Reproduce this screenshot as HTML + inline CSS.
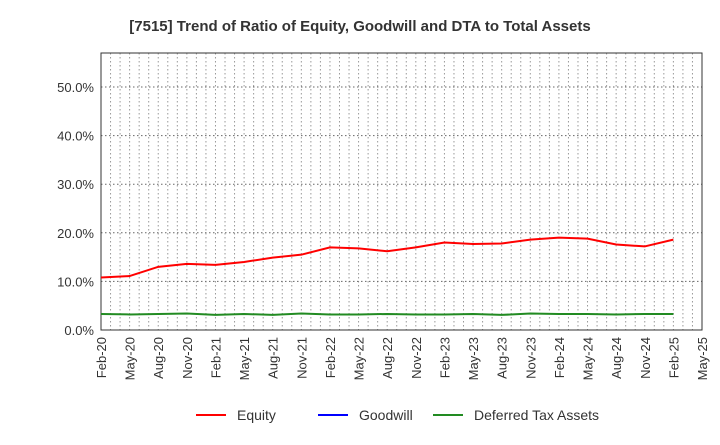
<!DOCTYPE html>
<html><head><meta charset="utf-8"><style>
body{margin:0;background:#fff;font-family:"Liberation Sans",sans-serif;}
</style></head><body>
<svg id="c" width="720" height="440" xmlns="http://www.w3.org/2000/svg">
<text x="360" y="31" text-anchor="middle" font-size="15" font-weight="bold" fill="#333">[7515]  Trend of Ratio of Equity, Goodwill and DTA to Total Assets</text>
<g id="grid"></g><g id="axes"></g><g id="series"></g>
<g>
<line x1="196" y1="415" x2="226" y2="415" stroke="#f00" stroke-width="2"/><text x="237" y="420" font-size="14" fill="#333">Equity</text>
<line x1="318" y1="415" x2="348" y2="415" stroke="#00f" stroke-width="2"/><text x="359" y="420" font-size="14" fill="#333">Goodwill</text>
<line x1="433" y1="415" x2="463" y2="415" stroke="#228b22" stroke-width="2"/><text x="474" y="420" font-size="14" fill="#333">Deferred Tax Assets</text>
</g>
</svg>
<script>
const categories=["Feb-20","May-20","Aug-20","Nov-20","Feb-21","May-21","Aug-21","Nov-21","Feb-22","May-22","Aug-22","Nov-22","Feb-23","May-23","Aug-23","Nov-23","Feb-24","May-24","Aug-24","Nov-24","Feb-25","May-25"];
const equity=[10.8,11.1,13.0,13.6,13.4,14.0,14.9,15.5,17.0,16.8,16.2,17.0,18.0,17.7,17.8,18.6,19.0,18.8,17.6,17.2,18.6];
const dta=[3.3,3.2,3.3,3.4,3.1,3.3,3.1,3.4,3.2,3.2,3.3,3.2,3.2,3.3,3.1,3.4,3.3,3.3,3.2,3.3,3.3];
const yTicks=[0,10,20,30,40,50];
const L=101,R=702,T=53,B=330,yMax=57;
const x=i=>L+(R-L)*i/(categories.length-1);
const y=v=>B-(B-T)*v/yMax;
const ns="http://www.w3.org/2000/svg";
function mk(tag,attrs,parent){const e=document.createElementNS(ns,tag);for(const k in attrs)e.setAttribute(k,attrs[k]);parent.appendChild(e);return e;}
const grid=document.getElementById('grid'),axes=document.getElementById('axes'),series=document.getElementById('series');
for(let m=1;m<(categories.length-1)*3;m++){const gx=L+(R-L)*m/((categories.length-1)*3);
const l=mk('line',{x1:gx,x2:gx,y1:T,y2:B,stroke:'#999','stroke-dasharray':'1.5,2.5'},grid);

}
yTicks.forEach(v=>{const l=mk('line',{x1:L,x2:R,y1:y(v),y2:y(v),stroke:'#666','stroke-dasharray':'1.5,2.5'},grid);


const t=mk('text',{x:L-7,y:y(v)+5,'text-anchor':'end','font-size':13,fill:'#333'},axes);t.textContent=v.toFixed(1)+'%';

});
const fr=mk('rect',{x:L,y:T,width:R-L,height:B-T,fill:'none',stroke:'#333','stroke-width':1},axes);


categories.forEach((c,i)=>{const t=mk('text',{x:0,y:0,'text-anchor':'end','font-size':13,fill:'#333',transform:`translate(${x(i)+5},${B+7}) rotate(-90)`},axes);t.textContent=c;

});
function line(data,color,name){const p=mk('polyline',{points:data.map((v,i)=>x(i)+','+y(v)).join(' '),fill:'none',stroke:color,'stroke-width':2},series);

}
line(dta,'#228b22','dta-line');
line(equity,'#f00','equity-line');
</script>
</body></html>
